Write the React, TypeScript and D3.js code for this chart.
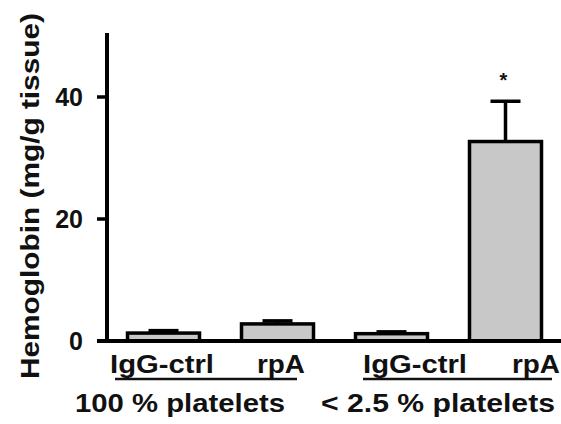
import React from "react";
import * as d3 from "d3";

const categories = ["IgG-ctrl", "rpA", "IgG-ctrl", "rpA"];
const groups = ["100 % platelets", "< 2.5 % platelets"];
const values = [1.3, 2.8, 1.2, 32.7];
const errors = [0.4, 0.5, 0.3, 6.6];
const significant = [false, false, false, true];
const yTicks = [0, 20, 40];
const yLabel = "Hemoglobin (mg/g tissue)";

const W = 561;
const H = 424;
const FONT = "'Liberation Sans', Arial, Helvetica, sans-serif";

export default function App() {
  const y = d3.scaleLinear().domain([0, 50]).range([341, 36]);
  const x = d3
    .scalePoint<number>()
    .domain(categories.map((_, i) => i))
    .range([163.5, 505.5]);
  const bw = 72;
  const axisX = 107;

  // label layout (centers and widths)
  const catLabelX = [162, 281, 415, 536];
  const catLabelW = [104, 48, 104, 48];
  const underlines = [
    [115, 297],
    [363, 552],
  ];
  const groupX = [180, 438];
  const groupW = [210, 234];

  return (
    <svg
      width={W}
      height={H}
      viewBox={`0 0 ${W} ${H}`}
      style={{ position: "absolute", left: 0, top: 0, background: "#fff" }}
      fontFamily={FONT}
    >
      <rect x={0} y={0} width={W} height={H} fill="#fff" />
      {/* bars */}
      {values.map((v, i) => {
        const cx = x(i) as number;
        const top = y(v);
        const etop = y(v + errors[i]);
        const capW = 30;
        return (
          <g key={i}>
            <line x1={cx} x2={cx} y1={top} y2={etop} stroke="#000" strokeWidth={3.5} />
            <line
              x1={cx - capW / 2}
              x2={cx + capW / 2}
              y1={etop}
              y2={etop}
              stroke="#000"
              strokeWidth={3.5}
            />
            <rect
              x={cx - bw / 2}
              y={top}
              width={bw}
              height={y(0) - top}
              fill="#c8c8c8"
              stroke="#000"
              strokeWidth={3.5}
            />
            {significant[i] && (
              <text
                x={cx - 2}
                y={etop - 14}
                textAnchor="middle"
                fontSize={20}
                fontWeight="bold"
                fill="#111"
              >
                *
              </text>
            )}
          </g>
        );
      })}
      {/* axes */}
      <line x1={axisX} x2={axisX} y1={y(50) - 3} y2={y(0)} stroke="#000" strokeWidth={4} />
      <line x1={97} x2={W} y1={y(0)} y2={y(0)} stroke="#000" strokeWidth={4} />
      {yTicks.map((t) => (
        <g key={t}>
          <line x1={97} x2={axisX} y1={y(t)} y2={y(t)} stroke="#000" strokeWidth={3.5} />
          <text
            x={83}
            y={y(t) + 9}
            textAnchor="end"
            fontSize={25}
            fontWeight="bold"
            fill="#111"
          >
            {t}
          </text>
        </g>
      ))}
      {/* y label */}
      <text
        transform={`translate(39,196) rotate(-90)`}
        textAnchor="middle"
        fontSize={25}
        fontWeight="bold"
        fill="#111"
        textLength={366}
        lengthAdjust="spacingAndGlyphs"
      >
        {yLabel}
      </text>
      {/* category labels */}
      {categories.map((c, i) => (
        <text
          key={i}
          x={catLabelX[i] - catLabelW[i] / 2}
          y={373}
          fontSize={25}
          fontWeight="bold"
          fill="#111"
          textLength={catLabelW[i]}
          lengthAdjust="spacingAndGlyphs"
        >
          {c}
        </text>
      ))}
      {underlines.map((u, i) => (
        <line key={i} x1={u[0]} x2={u[1]} y1={379} y2={379} stroke="#111" strokeWidth={2.5} />
      ))}
      {groups.map((g, i) => (
        <text
          key={i}
          x={groupX[i] - groupW[i] / 2}
          y={412}
          fontSize={25}
          fontWeight="bold"
          fill="#111"
          textLength={groupW[i]}
          lengthAdjust="spacingAndGlyphs"
        >
          {g}
        </text>
      ))}
    </svg>
  );
}
